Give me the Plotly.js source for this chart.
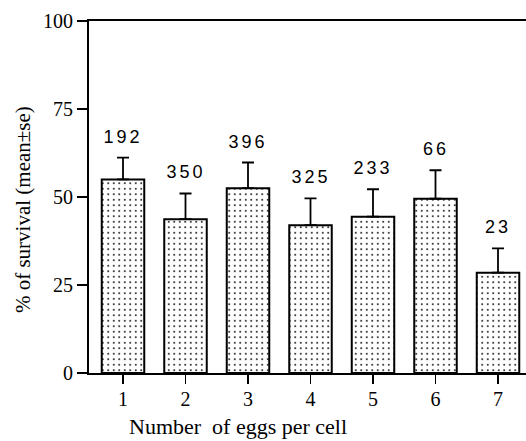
<!DOCTYPE html>
<html>
<head>
<meta charset="utf-8">
<script src="https://cdn.plot.ly/plotly-3.0.1.min.js"></script>
<style>
  html, body { margin: 0; padding: 0; background: #fff; }
  #chart { width: 526px; height: 441px; }
</style>
</head>
<body>
<div id="chart"></div>
<script>
// Data
var eggsPerCell = [1, 2, 3, 4, 5, 6, 7];
var survivalMean = [55.0, 43.7, 52.5, 42.0, 44.4, 49.5, 28.5];
var survivalSE = [6.2, 7.3, 7.3, 7.6, 7.8, 8.1, 6.9];
var sampleSize = ['192', '350', '396', '325', '233', '66', '23'];
var yTickVals = [0, 25, 50, 75, 100];
var xTitle = 'Number&nbsp; of eggs per cell';
var yTitle = '% of survival (mean±se)';

var zeros = survivalSE.map(function () { return 0; });

var trace = {
  type: 'bar',
  x: eggsPerCell,
  y: survivalMean,
  width: 0.68,
  marker: {
    color: '#ffffff',
    line: { color: '#000000', width: 2 },
    pattern: { shape: '.', fgcolor: '#000000', bgcolor: '#ffffff', size: 5.5, solidity: 0.09 }
  },
  error_y: {
    type: 'data',
    symmetric: false,
    array: survivalSE,
    arrayminus: zeros,
    color: '#000000',
    thickness: 1.8,
    width: 6
  },
  hoverinfo: 'none'
};

var annotations = eggsPerCell.map(function (x, i) {
  return {
    x: x,
    y: survivalMean[i] + survivalSE[i],
    xref: 'x',
    yref: 'y',
    text: sampleSize[i],
    showarrow: false,
    xanchor: 'center',
    yanchor: 'bottom',
    yshift: 9,
    font: { family: 'Liberation Sans, Arial, sans-serif', size: 18, color: '#000' }
  };
});

annotations.push({
  xref: 'paper', yref: 'paper',
  x: 0.341, y: -0.1506,
  xanchor: 'center', yanchor: 'middle',
  showarrow: false,
  text: xTitle,
  font: { family: 'Liberation Serif, Times New Roman, serif', size: 22, color: '#000' }
});
annotations.push({
  xref: 'paper', yref: 'paper',
  x: -0.151, y: 0.463,
  xanchor: 'center', yanchor: 'middle',
  textangle: -90,
  showarrow: false,
  text: yTitle,
  font: { family: 'Liberation Serif, Times New Roman, serif', size: 21, color: '#000' }
});

var layout = {
  width: 526,
  height: 441,
  margin: { l: 89, r: 0, t: 21, b: 68 },
  paper_bgcolor: '#ffffff',
  plot_bgcolor: '#ffffff',
  showlegend: false,
  font: { family: 'Liberation Serif, Times New Roman, serif', size: 20, color: '#000' },
  xaxis: {
    range: [0.456, 7.448],
    tickvals: eggsPerCell,
    ticktext: eggsPerCell.map(String),
    ticks: 'outside',
    ticklen: 9,
    tickwidth: 1.6,
    tickcolor: '#000',
    ticklabelstandoff: -2,
    showline: true,
    linecolor: '#000',
    linewidth: 2,
    mirror: true,
    showgrid: false,
    zeroline: false,
    tickfont: { family: 'Liberation Serif, Times New Roman, serif', size: 20, color: '#000' }
  },
  yaxis: {
    range: [0, 100],
    tickvals: yTickVals,
    ticktext: yTickVals.map(String),
    ticks: 'outside',
    ticklen: 10,
    tickwidth: 1.6,
    tickcolor: '#000',
    showline: true,
    linecolor: '#000',
    linewidth: 2,
    mirror: false,
    showgrid: false,
    zeroline: false,
    tickfont: { family: 'Liberation Serif, Times New Roman, serif', size: 20, color: '#000' }
  },
  annotations: annotations
};

Plotly.newPlot('chart', [trace], layout, { displayModeBar: false, staticPlot: true }).then(function () {
  document.querySelectorAll('.annotation-text').forEach(function (el) {
    if (/^\d+$/.test(el.textContent)) el.style.letterSpacing = '3px';
  });
});
</script>
</body>
</html>
